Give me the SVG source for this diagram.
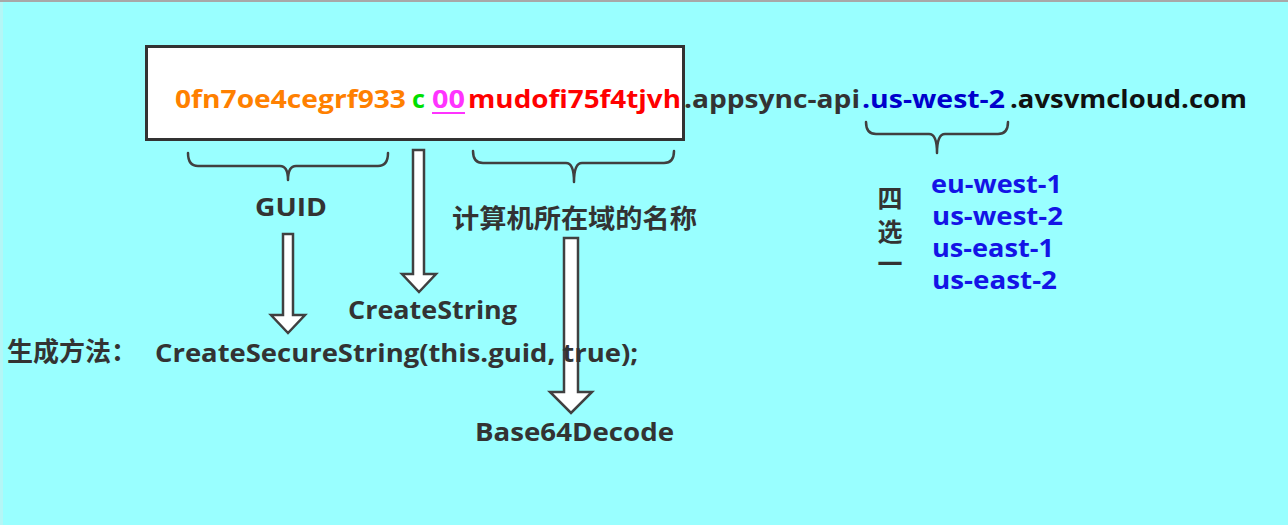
<svg xmlns="http://www.w3.org/2000/svg" width="1288" height="525" viewBox="0 0 1288 525">
  <style>
    text { font-family: "Open Sans", "Noto Sans CJK SC", sans-serif; font-weight: bold; font-size: 25px; }
    .cjk { font-family: "Noto Sans CJK SC", "Open Sans", sans-serif; font-size: 26px; }
    .dark { fill: #333333; }
    .blue { fill: #1414E6; }
    .brace { fill: none; stroke: #404040; stroke-width: 2.5; stroke-linecap: round; stroke-linejoin: round; }
    .arrow { fill: #ffffff; stroke: #404040; stroke-width: 2.5; stroke-linejoin: miter; }
    .vertical { writing-mode: vertical-rl; font-size: 25px; letter-spacing: 7.5px; }
  </style>

  <!-- canvas -->
  <rect x="0" y="0" width="1288" height="525" fill="#99FFFF"/>
  <rect x="0" y="0" width="3" height="525" fill="#b4f6f6"/>
  <rect x="0" y="0" width="1288" height="2" fill="#a8a8a8"/>

  <!-- host name box -->
  <g id="hostname">
    <rect x="146.5" y="46.5" width="537" height="93" fill="#ffffff" stroke="#333333" stroke-width="3"/>
    <text x="175" y="108" textLength="231" lengthAdjust="spacingAndGlyphs" fill="#FF8000">0fn7oe4cegrf933</text>
    <text x="412" y="108" textLength="13" lengthAdjust="spacingAndGlyphs" fill="#00E000">c</text>
    <text x="432" y="108" textLength="33" lengthAdjust="spacingAndGlyphs" fill="#FF33FF">00</text>
    <line x1="432" y1="113" x2="465" y2="113" stroke="#FF33FF" stroke-width="2"/>
    <text x="468" y="108" textLength="213" lengthAdjust="spacingAndGlyphs" fill="#FF0000">mudofi75f4tjvh</text>
  </g>

  <g id="domain-suffix">
    <text x="684" y="108" textLength="176" lengthAdjust="spacingAndGlyphs" class="dark">.appsync-api</text>
    <text x="862" y="108" textLength="143" lengthAdjust="spacingAndGlyphs" fill="#0000CC">.us-west-2</text>
    <text x="1010" y="108" textLength="237" lengthAdjust="spacingAndGlyphs" fill="#111111">.avsvmcloud.com</text>
  </g>

  <!-- connectors: braces and block arrows -->
  <g id="connectors">
    <path class="brace" d="M188,153 Q188,166 198,166 L280,166 Q288,166 288,180 Q288,166 296,166 L378,166 Q388,166 388,153"/>
    <path class="brace" d="M473,151 Q473,163 483,163 L566,163 Q574,163 574,182 Q574,163 582,163 L664,163 Q674,163 674,151"/>
    <path class="brace" d="M866,122 Q866,134 876,134 L929,134 Q937,134 937,153 Q937,134 945,134 L998,134 Q1008,134 1008,122"/>
    <polygon class="arrow" points="283,234 293,234 293,315 305,315 288,333 271,315 283,315"/>
    <polygon class="arrow" points="413,150 424,150 424,274 436,274 419,292 402,274 413,274"/>
    <polygon class="arrow" points="564,238 578,238 578,392 592,392 571,413 550,392 564,392"/>
  </g>

  <g id="guid-label">
    <text x="255" y="216" textLength="72" lengthAdjust="spacingAndGlyphs" class="dark">GUID</text>
  </g>

  <g id="domain-name-label">
    <text x="452" y="228" textLength="245" lengthAdjust="spacingAndGlyphs" class="cjk dark">计算机所在域的名称</text>
  </g>

  <g id="createstring">
    <text x="348" y="319" textLength="169" lengthAdjust="spacingAndGlyphs" class="dark">CreateString</text>
  </g>

  <g id="method">
    <text x="7" y="361" class="cjk dark">生成方法：</text>
    <text x="155" y="362" textLength="483" lengthAdjust="spacingAndGlyphs" class="dark">CreateSecureString(this.guid, true);</text>
  </g>

  <g id="base64decode">
    <text x="475" y="441" textLength="199" lengthAdjust="spacingAndGlyphs" class="dark">Base64Decode</text>
  </g>

  <g id="region-choice">
    <!-- vertical label -->
    <text x="890" y="186" class="cjk dark vertical">四选一</text>
    <text x="931" y="193" textLength="131" lengthAdjust="spacingAndGlyphs" class="blue">eu-west-1</text>
    <text x="932" y="225" textLength="131" lengthAdjust="spacingAndGlyphs" class="blue">us-west-2</text>
    <text x="932" y="257" textLength="122" lengthAdjust="spacingAndGlyphs" class="blue">us-east-1</text>
    <text x="932" y="289" textLength="125" lengthAdjust="spacingAndGlyphs" class="blue">us-east-2</text>
  </g>
</svg>
